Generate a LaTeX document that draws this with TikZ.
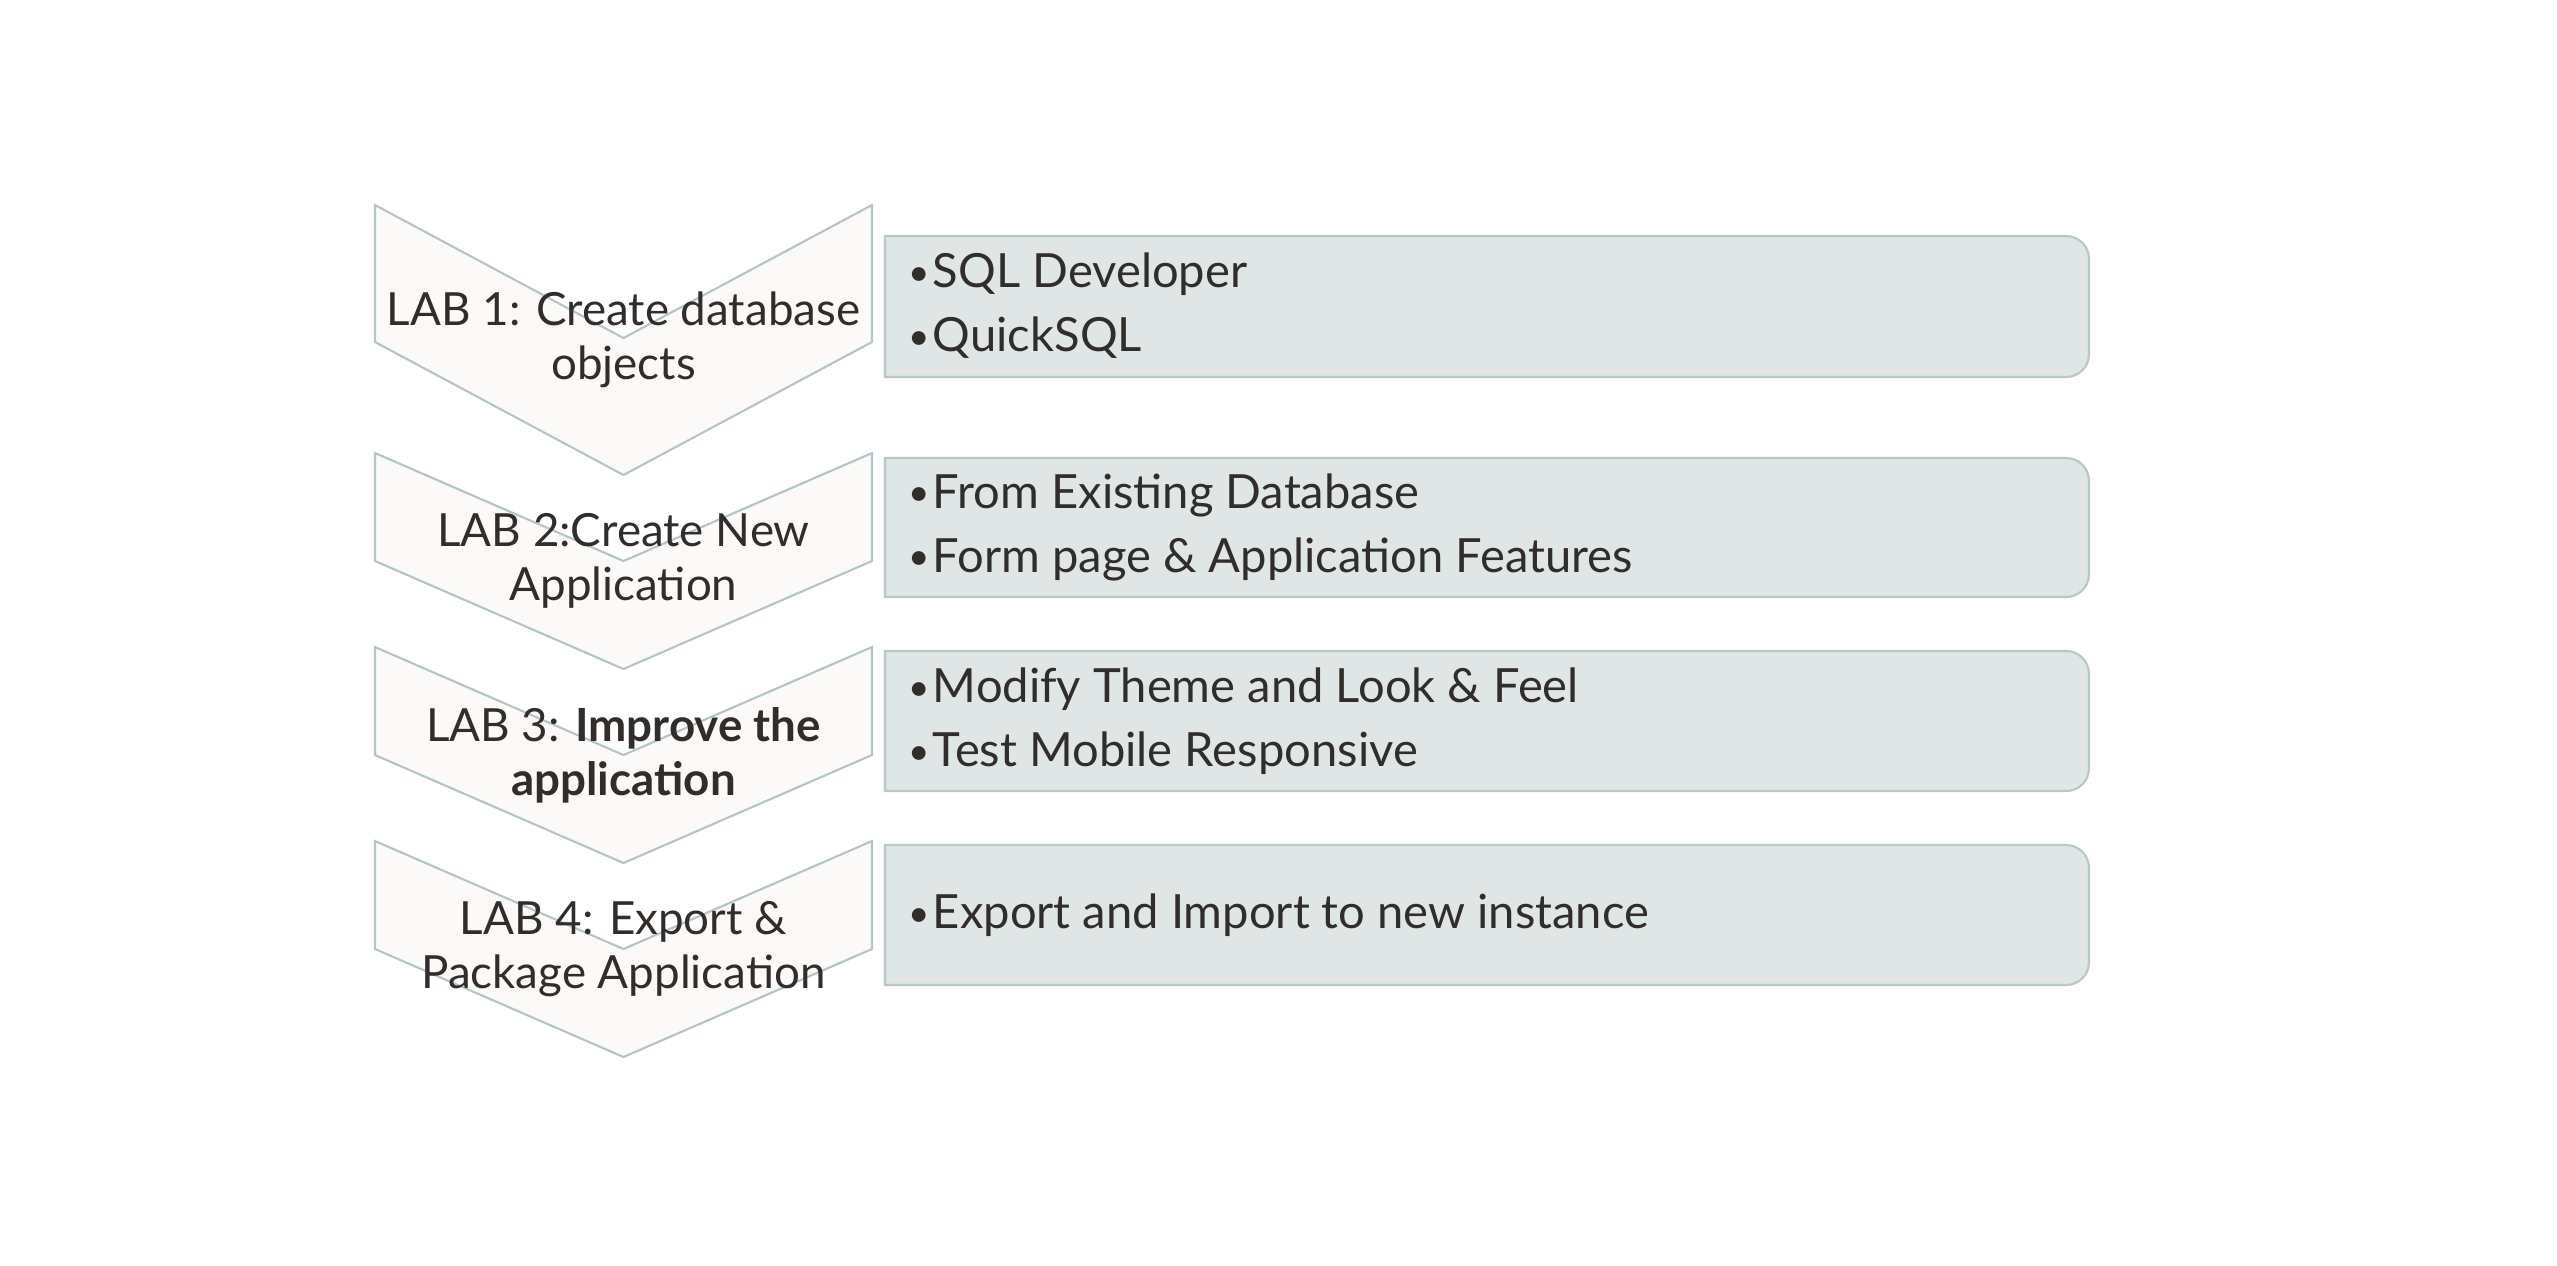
\documentclass[tikz,border=0pt]{standalone}
\usepackage{fontspec}
\setmainfont{Lato}
\usetikzlibrary{positioning}
\definecolor{chevfill}{HTML}{FBFAF9}
\definecolor{chevline}{HTML}{B3C6C5}
\definecolor{boxfill}{HTML}{DFE6E5}
\definecolor{boxline}{HTML}{B6C8C7}
\definecolor{ink}{HTML}{312D2A}

\tikzset{
  chev/.style={fill=chevfill, draw=chevline, line width=0.6pt},
  itembox/.style={fill=boxfill, draw=boxline, line width=0.6pt},
  labtext/.style={align=center, inner sep=0pt, text=ink, font=\fontsize{13}{15.4}\selectfont},
  itemtext/.style={align=left, anchor=west, inner sep=0pt, text=ink, font=\fontsize{13.4}{18.2}\selectfont}
}
\newcommand{\itembullet}{\raisebox{0.6pt}{\fontsize{10.5}{10.5}\selectfont\textbullet}\hspace{0.8pt}}

\begin{document}
\begin{tikzpicture}[x=0.01cm, y=-0.01cm]
\useasboundingbox (0,0) rectangle (2557,1265);
% Lab 1
\filldraw[chev] (375,205) -- (623.5,338) -- (872,205) -- (872,342) -- (623.5,475) -- (375,342) -- cycle;
\node[labtext] (lab1) at (623.5,340) {LAB 1: Create database\\objects};
\filldraw[itembox] (885,236) [rounded corners=6.5pt] -- (2089,236) -- (2089,377) [sharp corners] -- (885,377) -- cycle;
\node[itemtext] (items1) at (908,306) {\itembullet SQL Developer\\\itembullet QuickSQL};
% Lab 2
\filldraw[chev] (375,453) -- (623.5,561) -- (872,453) -- (872,561) -- (623.5,669) -- (375,561) -- cycle;
\node[labtext] (lab2) at (623.5,561) {LAB 2:Create New\\Application};
\filldraw[itembox] (885,458) [rounded corners=6.5pt] -- (2089,458) -- (2089,597) [sharp corners] -- (885,597) -- cycle;
\node[itemtext] (items2) at (908,527) {\itembullet From Existing Database\\\itembullet Form page \& Application Features};
% Lab 3
\filldraw[chev] (375,647) -- (623.5,755) -- (872,647) -- (872,755) -- (623.5,863) -- (375,755) -- cycle;
\node[labtext] (lab3) at (623.5,755) {LAB 3: \textbf{Improve the}\\\textbf{application}};
\filldraw[itembox] (885,651) [rounded corners=6.5pt] -- (2089,651) -- (2089,791) [sharp corners] -- (885,791) -- cycle;
\node[itemtext] (items3) at (908,721) {\itembullet Modify Theme and Look \& Feel\\\itembullet Test Mobile Responsive};
% Lab 4
\filldraw[chev] (375,841) -- (623.5,949) -- (872,841) -- (872,949) -- (623.5,1057) -- (375,949) -- cycle;
\node[labtext] (lab4) at (623.5,949) {LAB 4: Export \&\\Package Application};
\filldraw[itembox] (885,845) [rounded corners=6.5pt] -- (2089,845) -- (2089,985) [sharp corners] -- (885,985) -- cycle;
\node[itemtext] (items4) at (908,915) {\itembullet Export and Import to new instance};
\end{tikzpicture}
\end{document}
